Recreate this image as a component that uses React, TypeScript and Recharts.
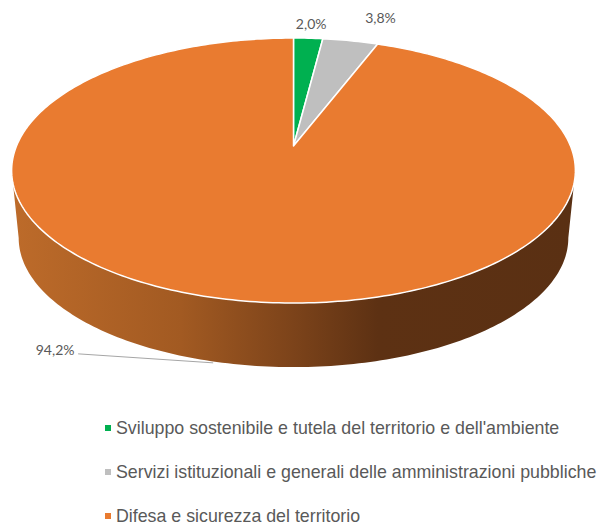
import { PieChart, Pie, Legend } from "recharts";

const categories = [
  "Sviluppo sostenibile e tutela del territorio e dell'ambiente",
  "Servizi istituzionali e generali delle amministrazioni pubbliche",
  "Difesa e sicurezza del territorio",
];
const shares = [2.0, 3.8, 94.2];
const colors = ["#00b050", "#bfbfbf", "#e97b30"];

const WIDTH = 598;
const HEIGHT = 525;
const CX = 293.5;
const CY = 146;
const RADIUS = 277;

// tilted disc: the centre sits above the middle of the visible ellipse
const SQUASH = 0.462;
const PERSPECTIVE = 0.185;
const WALL_DROP = 68;
const WALL_SCALE = 0.975;

const TEXT_COLOR = "#595959";
const LABEL_FONT = "Lato, 'Open Sans', sans-serif";

const tableData = categories.map((name, i) => ({ name, value: shares[i], fill: colors[i] }));

// offsets from the rim point of each slice to its label
const labelOffsets = [
  { dx: 3, dy: -15 },
  { dx: 30, dy: -23 },
  { dx: -177, dy: 50 },
];

const rad = (deg: number) => (deg * Math.PI) / 180;

// clockwise angle from 12 o'clock -> screen position on the disc rim
function rimPoint(cx: number, cy: number, r: number, clock: number, drop = 0, scale = 1) {
  const x = Math.sin(rad(clock));
  const y = Math.cos(rad(clock));
  const w = 1 + PERSPECTIVE * y;
  return [cx + (scale * r * x) / w, cy + drop - (scale * r * SQUASH * y) / w];
}

function arc(cx: number, cy: number, r: number, from: number, to: number, drop = 0, scale = 1) {
  const steps = Math.max(2, Math.ceil(Math.abs(to - from)));
  const pts: string[] = [];
  for (let i = 0; i <= steps; i++) {
    const p = rimPoint(cx, cy, r, from + ((to - from) * i) / steps, drop, scale);
    pts.push(`${p[0].toFixed(2)} ${p[1].toFixed(2)}`);
  }
  return pts;
}

function DiscSlice(props: any) {
  const { cx, cy, outerRadius, startAngle, endAngle, fill } = props;
  const from = 90 - startAngle;
  const to = 90 - endAngle;
  const face = `M${cx} ${cy}L${arc(cx, cy, outerRadius, from, to).join("L")}Z`;

  // only the slice crossing 6 o'clock shows a side wall
  const showsWall = from < 180 && to > 180;
  const sideAngle = 90 + (Math.asin(PERSPECTIVE) * 180) / Math.PI;
  const wallFrom = Math.max(from, sideAngle);
  const wallTo = Math.min(to, 360 - sideAngle);
  const wall = [
    ...arc(cx, cy, outerRadius, wallFrom, wallTo),
    ...arc(cx, cy, outerRadius, wallTo, wallFrom, WALL_DROP, WALL_SCALE),
  ];

  return (
    <g>
      {showsWall && (
        <>
          <defs>
            <linearGradient id="wallShade" gradientUnits="userSpaceOnUse" x1={12} x2={575} y1={0} y2={0}>
              <stop offset="0" stopColor="#bd6b2a" />
              <stop offset="0.3" stopColor="#a25a22" />
              <stop offset="0.5" stopColor="#7c431a" />
              <stop offset="0.65" stopColor="#5d3113" />
              <stop offset="1" stopColor="#5a3013" />
            </linearGradient>
          </defs>
          <path d={`M${wall.join("L")}Z`} fill="url(#wallShade)" />
        </>
      )}
      <path d={face} fill={fill} stroke="#fff" strokeWidth={1.5} strokeLinejoin="round" />
    </g>
  );
}

function SliceLabel(props: any) {
  const { cx, cy, outerRadius, midAngle, value, index } = props;
  const [rimX, rimY] = rimPoint(cx, cy, outerRadius, 90 - midAngle);
  const off = labelOffsets[index];
  const x = rimX + off.dx;
  const y = rimY + off.dy;
  const crossesWall = index === 2;
  return (
    <g>
      {crossesWall && (
        <line x1={x + 23} y1={y + 4} x2={rimX - 19} y2={rimY + WALL_DROP - 5} stroke="#a6a6a6" strokeWidth={1} />
      )}
      <text x={x} y={y} textAnchor="middle" dominantBaseline="central" fontFamily={LABEL_FONT} fontSize={14} fill={TEXT_COLOR}>
        {value.toFixed(1).replace(".", ",")}%
      </text>
    </g>
  );
}

function LegendRows({ payload }: any) {
  return (
    <div>
      {(payload ?? []).map((entry: any) => (
        <div key={entry.value} style={{ display: "flex", alignItems: "center", height: 44, whiteSpace: "nowrap" }}>
          <span style={{ width: 6, height: 6, background: entry.color, marginRight: 5, flex: "none" }} />
          <span style={{ fontFamily: "'Liberation Sans', Arial, sans-serif", fontSize: 17.8, color: TEXT_COLOR }}>{entry.value}</span>
        </div>
      ))}
    </div>
  );
}

export default function App() {
  return (
    <div style={{ position: "absolute", left: 0, top: 0, width: WIDTH, height: HEIGHT, background: "#fff" }}>
      <PieChart width={WIDTH} height={HEIGHT} margin={{ top: 0, right: 0, bottom: 0, left: 0 }}>
        <Pie
          data={tableData}
          dataKey="value"
          nameKey="name"
          cx={CX}
          cy={CY}
          outerRadius={RADIUS}
          startAngle={90}
          endAngle={-270}
          shape={DiscSlice}
          label={SliceLabel}
          labelLine={false}
          isAnimationActive={false}
        />
        <Legend
          content={LegendRows}
          layout="vertical"
          itemSorter={null}
          wrapperStyle={{ position: "absolute", left: 105, top: 406, width: 493 }}
        />
      </PieChart>
    </div>
  );
}
